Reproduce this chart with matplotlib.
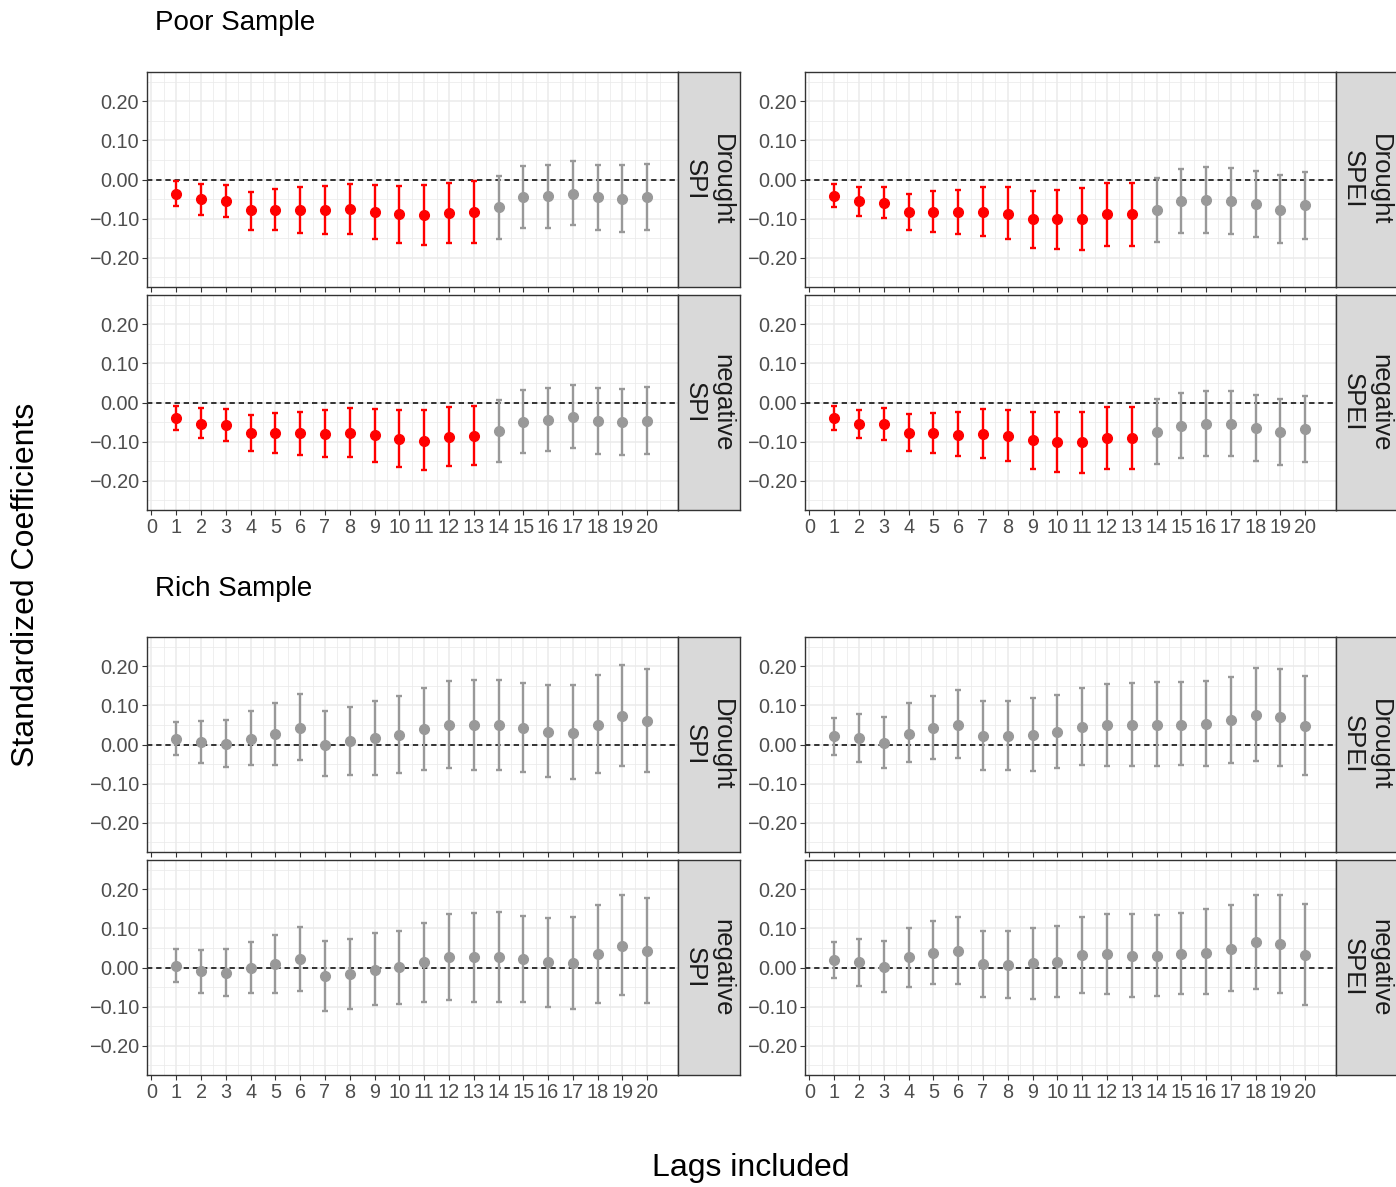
import matplotlib
matplotlib.use("Agg")
import matplotlib.pyplot as plt
import numpy as np

plt.rcParams["font.family"] = ["Liberation Sans", "DejaVu Sans"]

LAGS = list(range(1, 21))
X_TICKS = list(range(0, 21))
Y_TICKS = [-0.20, -0.10, 0.00, 0.10, 0.20]
SAMPLES = ["Poor Sample", "Rich Sample"]
ROW_LABELS = ["Drought", "negative"]
COL_LABELS = ["SPI", "SPEI"]

# Poor sample -----------------------------------------------------------
poor_drought_spi = [-0.037, -0.051, -0.055, -0.079, -0.077, -0.079, -0.079, -0.076, -0.083, -0.089,
                    -0.091, -0.085, -0.083, -0.071, -0.045, -0.043, -0.036, -0.046, -0.049, -0.045]
poor_drought_spi_lo = [-0.067, -0.090, -0.097, -0.128, -0.130, -0.136, -0.140, -0.140, -0.151, -0.163,
                       -0.168, -0.162, -0.162, -0.151, -0.124, -0.123, -0.117, -0.128, -0.134, -0.129]
poor_drought_spi_hi = [-0.005, -0.012, -0.014, -0.031, -0.025, -0.020, -0.017, -0.011, -0.014, -0.016,
                       -0.014, -0.008, -0.004, 0.008, 0.035, 0.038, 0.047, 0.038, 0.036, 0.040]

poor_drought_spei = [-0.041, -0.056, -0.059, -0.083, -0.082, -0.083, -0.083, -0.087, -0.101, -0.102,
                     -0.101, -0.089, -0.089, -0.077, -0.056, -0.053, -0.054, -0.063, -0.077, -0.066]
poor_drought_spei_lo = [-0.070, -0.093, -0.099, -0.129, -0.134, -0.140, -0.145, -0.153, -0.174, -0.179,
                        -0.180, -0.169, -0.170, -0.160, -0.138, -0.136, -0.140, -0.148, -0.163, -0.153]
poor_drought_spei_hi = [-0.011, -0.020, -0.018, -0.036, -0.030, -0.026, -0.020, -0.020, -0.029, -0.026,
                        -0.022, -0.010, -0.010, 0.005, 0.026, 0.031, 0.029, 0.023, 0.012, 0.019]

poor_negative_spi = [-0.040, -0.054, -0.058, -0.077, -0.078, -0.079, -0.081, -0.077, -0.084, -0.093,
                     -0.098, -0.087, -0.085, -0.073, -0.049, -0.044, -0.037, -0.048, -0.050, -0.047]
poor_negative_spi_lo = [-0.070, -0.092, -0.098, -0.123, -0.129, -0.135, -0.140, -0.139, -0.151, -0.166,
                        -0.172, -0.163, -0.161, -0.152, -0.128, -0.125, -0.117, -0.132, -0.134, -0.131]
poor_negative_spi_hi = [-0.010, -0.015, -0.016, -0.031, -0.027, -0.024, -0.020, -0.014, -0.016, -0.020,
                        -0.020, -0.012, -0.008, 0.007, 0.032, 0.038, 0.045, 0.036, 0.035, 0.039]

poor_negative_spei = [-0.040, -0.054, -0.056, -0.077, -0.079, -0.082, -0.081, -0.085, -0.097, -0.101,
                      -0.102, -0.090, -0.090, -0.076, -0.059, -0.055, -0.055, -0.065, -0.076, -0.067]
poor_negative_spei_lo = [-0.070, -0.092, -0.097, -0.124, -0.130, -0.138, -0.142, -0.150, -0.169, -0.177,
                         -0.181, -0.169, -0.171, -0.157, -0.141, -0.138, -0.138, -0.149, -0.161, -0.152]
poor_negative_spei_hi = [-0.010, -0.018, -0.015, -0.030, -0.027, -0.025, -0.017, -0.019, -0.025, -0.025,
                         -0.024, -0.011, -0.011, 0.008, 0.025, 0.030, 0.030, 0.020, 0.009, 0.017]

# Rich sample -----------------------------------------------------------
rich_drought_spi = [0.014, 0.006, 0.002, 0.015, 0.026, 0.043, 0.000, 0.009, 0.016, 0.025,
                    0.039, 0.050, 0.049, 0.049, 0.042, 0.032, 0.030, 0.050, 0.072, 0.061]
rich_drought_spi_lo = [-0.027, -0.048, -0.058, -0.053, -0.052, -0.040, -0.081, -0.079, -0.077, -0.073,
                       -0.064, -0.061, -0.064, -0.066, -0.071, -0.084, -0.089, -0.073, -0.055, -0.071]
rich_drought_spi_hi = [0.057, 0.060, 0.062, 0.085, 0.107, 0.128, 0.085, 0.096, 0.111, 0.123,
                       0.145, 0.163, 0.166, 0.166, 0.157, 0.151, 0.151, 0.178, 0.203, 0.194]

rich_drought_spei = [0.021, 0.016, 0.005, 0.028, 0.042, 0.051, 0.023, 0.023, 0.025, 0.031,
                     0.046, 0.050, 0.049, 0.050, 0.051, 0.053, 0.062, 0.075, 0.070, 0.048]
rich_drought_spei_lo = [-0.026, -0.045, -0.059, -0.046, -0.037, -0.035, -0.065, -0.066, -0.067, -0.060,
                        -0.052, -0.054, -0.056, -0.054, -0.053, -0.055, -0.047, -0.043, -0.054, -0.079]
rich_drought_spei_hi = [0.068, 0.077, 0.070, 0.105, 0.123, 0.139, 0.112, 0.112, 0.119, 0.126,
                        0.145, 0.156, 0.157, 0.159, 0.159, 0.163, 0.173, 0.196, 0.194, 0.176]

rich_negative_spi = [0.005, -0.010, -0.014, -0.002, 0.008, 0.022, -0.022, -0.016, -0.006, 0.001,
                     0.014, 0.028, 0.027, 0.027, 0.021, 0.013, 0.012, 0.034, 0.056, 0.043]
rich_negative_spi_lo = [-0.037, -0.065, -0.072, -0.065, -0.065, -0.059, -0.110, -0.105, -0.097, -0.093,
                        -0.087, -0.082, -0.087, -0.087, -0.089, -0.101, -0.105, -0.090, -0.071, -0.091]
rich_negative_spi_hi = [0.048, 0.046, 0.048, 0.064, 0.083, 0.104, 0.067, 0.074, 0.087, 0.094,
                        0.115, 0.138, 0.140, 0.142, 0.132, 0.127, 0.129, 0.160, 0.186, 0.177]

rich_negative_spei = [0.019, 0.013, 0.002, 0.026, 0.037, 0.042, 0.008, 0.007, 0.011, 0.014,
                      0.031, 0.035, 0.030, 0.029, 0.035, 0.038, 0.048, 0.065, 0.059, 0.032]
rich_negative_spei_lo = [-0.027, -0.047, -0.062, -0.049, -0.043, -0.042, -0.076, -0.079, -0.080, -0.076,
                         -0.066, -0.068, -0.075, -0.074, -0.068, -0.069, -0.061, -0.056, -0.066, -0.095]
rich_negative_spei_hi = [0.065, 0.073, 0.067, 0.102, 0.118, 0.129, 0.093, 0.093, 0.102, 0.106,
                         0.129, 0.138, 0.136, 0.134, 0.139, 0.149, 0.159, 0.186, 0.185, 0.162]

PANELS = {
    ("Poor Sample", "Drought", "SPI"): (poor_drought_spi, poor_drought_spi_lo, poor_drought_spi_hi),
    ("Poor Sample", "Drought", "SPEI"): (poor_drought_spei, poor_drought_spei_lo, poor_drought_spei_hi),
    ("Poor Sample", "negative", "SPI"): (poor_negative_spi, poor_negative_spi_lo, poor_negative_spi_hi),
    ("Poor Sample", "negative", "SPEI"): (poor_negative_spei, poor_negative_spei_lo, poor_negative_spei_hi),
    ("Rich Sample", "Drought", "SPI"): (rich_drought_spi, rich_drought_spi_lo, rich_drought_spi_hi),
    ("Rich Sample", "Drought", "SPEI"): (rich_drought_spei, rich_drought_spei_lo, rich_drought_spei_hi),
    ("Rich Sample", "negative", "SPI"): (rich_negative_spi, rich_negative_spi_lo, rich_negative_spi_hi),
    ("Rich Sample", "negative", "SPEI"): (rich_negative_spei, rich_negative_spei_lo, rich_negative_spei_hi),
}

W, H = 1396, 1187
COL_X = [146.5, 804.5]
PANEL_W = 531
STRIP_W = 62
ROW_Y = {"Poor Sample": [72, 295], "Rich Sample": [637, 860]}
PANEL_H = 215
TITLE_Y = {"Poor Sample": 23, "Rich Sample": 589}

RED = "#FF0000"
GREY = "#999999"
FRAME = "#333333"
GRID = "#EBEBEB"


def rect(x0, y0, w, h):
    return [x0 / W, 1 - (y0 + h) / H, w / W, h / H]


def draw_panel(ax, coef, lo, hi, show_x):
    coef = np.array(coef)
    lo = np.array(lo)
    hi = np.array(hi)
    lags = np.array(LAGS)

    ax.set_xlim(-0.2, 21.22)
    ax.set_ylim(-0.275, 0.275)

    ax.set_xticks(X_TICKS)
    ax.set_xticks(np.arange(0.5, 21, 1.0), minor=True)
    ax.set_yticks(Y_TICKS)
    ax.set_yticks([-0.25, -0.15, -0.05, 0.05, 0.15, 0.25], minor=True)
    ax.set_yticklabels([f"{v:.2f}".replace("-", "\u2212") for v in Y_TICKS])
    if show_x:
        ax.set_xticklabels([str(v) for v in X_TICKS])
    else:
        ax.set_xticklabels([])

    ax.grid(which="major", color=GRID, linewidth=1.1)
    ax.grid(which="minor", color=GRID, linewidth=0.55)
    ax.set_axisbelow(True)

    ax.tick_params(which="major", length=3.5, width=0.8, color=FRAME,
                   labelsize=14.3, labelcolor="#4D4D4D", pad=2)
    ax.tick_params(which="minor", length=0)
    for sp in ax.spines.values():
        sp.set_color(FRAME)
        sp.set_linewidth(1.0)

    ax.axhline(0, color="black", linestyle=(0, (3.5, 2.5)), linewidth=1.1, zorder=2)

    sig = hi < 0
    for mask, color in [(~sig, GREY), (sig, RED)]:
        if mask.any():
            ax.errorbar(lags[mask], coef[mask],
                        yerr=[coef[mask] - lo[mask], hi[mask] - coef[mask]],
                        fmt="o", color=color, ecolor=color, markersize=7,
                        elinewidth=1.7, capsize=2.2, capthick=1.7, zorder=3)


def draw_strip(ax, text):
    ax.set_facecolor("#D9D9D9")
    ax.set_xticks([])
    ax.set_yticks([])
    for sp in ax.spines.values():
        sp.set_color(FRAME)
        sp.set_linewidth(1.0)
    ax.text(0.5, 0.5, text, rotation=270, ha="center", va="center",
            fontsize=18.5, color="#1A1A1A", linespacing=1.15,
            transform=ax.transAxes)


def main():
    fig = plt.figure(figsize=(W / 100, H / 100), dpi=100)

    for sample in SAMPLES:
        for r, row_label in enumerate(ROW_LABELS):
            for c, col_label in enumerate(COL_LABELS):
                coef, lo, hi = PANELS[(sample, row_label, col_label)]
                y0 = ROW_Y[sample][r]
                ax = fig.add_axes(rect(COL_X[c], y0, PANEL_W, PANEL_H))
                draw_panel(ax, coef, lo, hi, show_x=(r == 1))
                sax = fig.add_axes(rect(COL_X[c] + PANEL_W, y0, STRIP_W, PANEL_H))
                draw_strip(sax, f"{row_label}\n{col_label}")

        fig.text(155 / W, 1 - TITLE_Y[sample] / H, sample, ha="left", va="center",
                 fontsize=20, color="black")

    fig.text(26 / W, 1 - 585 / H, "Standardized Coefficients", rotation=90,
             ha="center", va="center", fontsize=23, color="black")
    fig.text(751 / W, 1 - 1168 / H, "Lags included", ha="center", va="center",
             fontsize=23, color="black")

    fig.savefig("out.png", dpi=100, facecolor="white")
    plt.close(fig)


if __name__ == "__main__":
    main()
